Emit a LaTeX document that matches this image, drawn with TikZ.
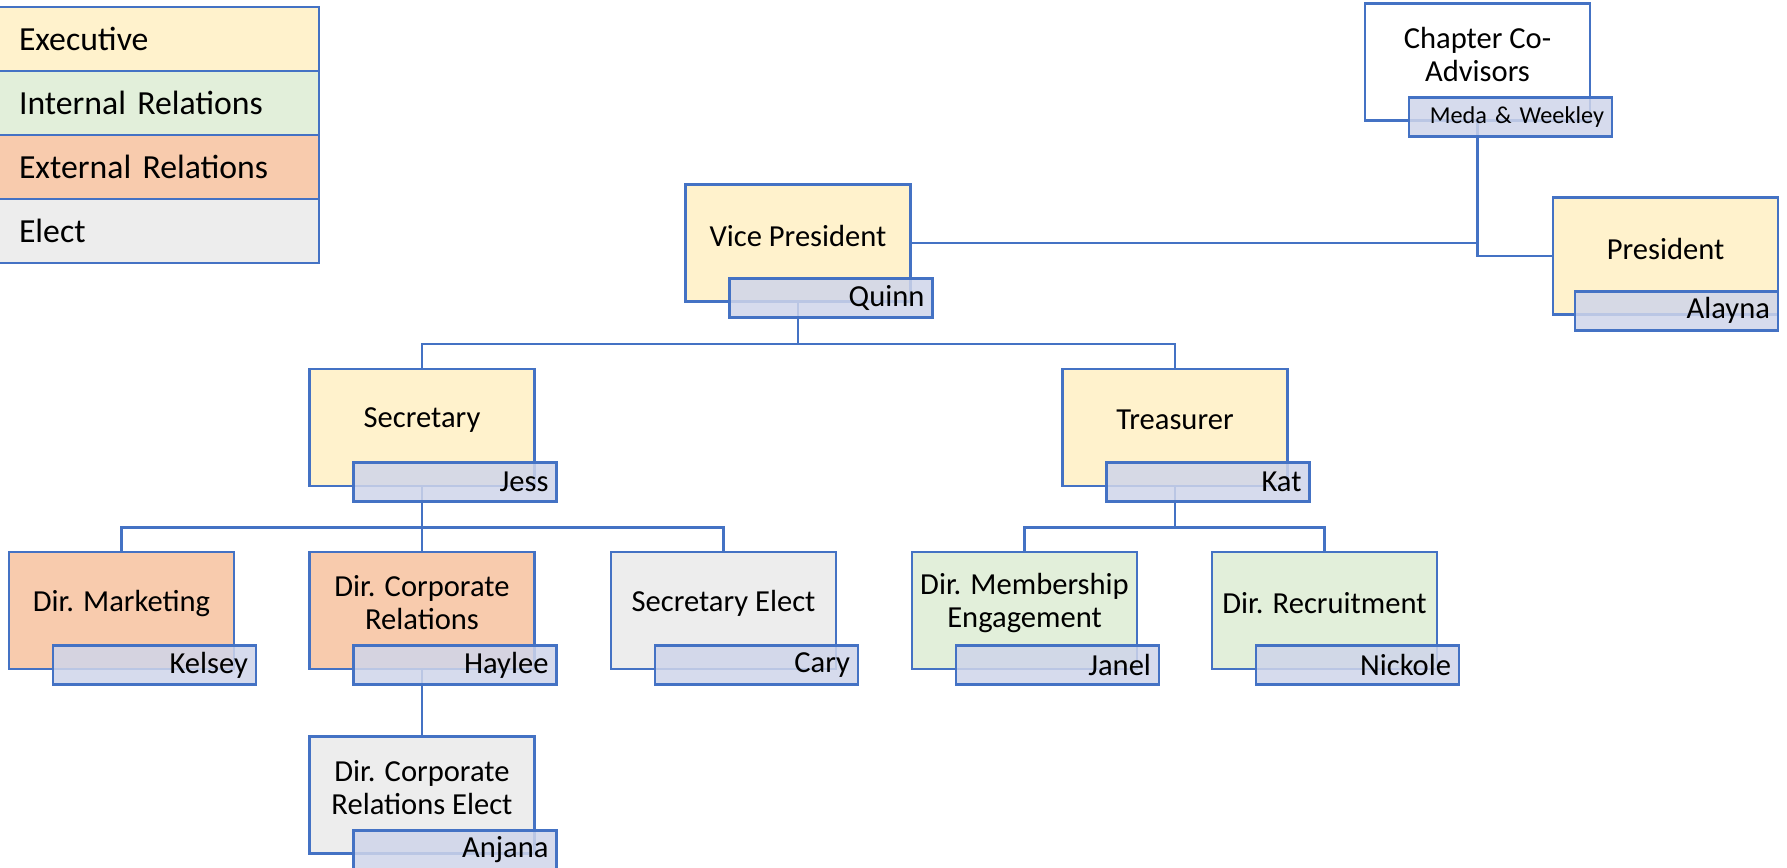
\documentclass[tikz,border=0pt]{standalone}
\usepackage{fontspec}
\setmainfont{Carlito}
\usetikzlibrary{calc,backgrounds}

\definecolor{chartblue}{HTML}{4472C4}
\definecolor{execfill}{HTML}{FFF2CC}
\definecolor{intfill}{HTML}{E2EFDA}
\definecolor{extfill}{HTML}{F8CBAD}
\definecolor{electfill}{HTML}{EDEDED}
\definecolor{tabfill}{HTML}{CFD5EA}

\tikzset{
	rolebox/.style={draw=chartblue, line width=0.055cm, minimum width=4.5cm, minimum height=2.34cm, inner sep=0pt},
	roletext/.style={align=center, inner sep=0pt, font=\fontsize{17.4}{18.8}\selectfont},
	nametab/.style={draw=chartblue, line width=0.055cm, fill=tabfill, fill opacity=0.85, text opacity=1, minimum height=0.78cm, text width=3.74cm, inner xsep=0.16cm, inner ysep=0pt, align=right, font=\fontsize{17.4}{18.8}\selectfont},
	legendcell/.style={draw=chartblue, line width=0.055cm, minimum height=1.28cm, text width=5.56cm, inner xsep=0.44cm, align=left, font=\fontsize{19.2}{21}\selectfont},
	link/.style={draw=chartblue, line width=0.055cm}
}

% box, title, name tab
\newcommand{\role}[6][]{%
	\node[rolebox, fill=#4] (#2) at (#3) {};
	\node[roletext] (#2-title) at ([yshift=0.15cm]#2.center) {#5};
	\node[nametab, anchor=north east, #1] (#2-name) at ([xshift=0.44cm, yshift=0.52cm]#2.south east) {#6};
}

\begin{document}
\begin{tikzpicture}[x=0.02cm, y=-0.02cm]
	%%%%% START %%%%%
	\useasboundingbox (0, 0) rectangle (1787, 867);
	
	\foreach \lab/\col [count=\i from 0] in {Executive/execfill, Internal Relations/intfill, External Relations/extfill, Elect/electfill}
		\node[legendcell, fill=\col] (key\i) at (158, {39+64*\i}) {\lab};
	
	\role[font=\fontsize{13.8}{15}\selectfont]{adv}{1477.5, 62}{white}{Chapter Co-\\Advisors}{Meda \& Weekley}
	\role[xshift=-0.44cm]{pres}{1665.5, 256}{execfill}{President}{Alayna}
	\role{vp}{798, 243}{execfill}{Vice President}{Quinn}
	
	\role{sec}{422, 427.5}{execfill}{Secretary}{Jess}
	\role{tre}{1175, 427.5}{execfill}{Treasurer}{Kat}
	
	\role{mkt}{121.5, 610.5}{extfill}{Dir. Marketing}{Kelsey}
	\role{corp}{422, 610.5}{extfill}{Dir. Corporate\\Relations}{Haylee}
	\role{secel}{723.5, 610.5}{electfill}{Secretary Elect}{Cary}
	\role{memb}{1024.5, 610.5}{intfill}{Dir. Membership\\Engagement}{Janel}
	\role{recr}{1324.5, 610.5}{intfill}{Dir. Recruitment}{Nickole}
	
	\role{corpel}{422, 795}{electfill}{Dir. Corporate\\Relations Elect}{Anjana}
	
	\begin{scope}[on background layer]
		\draw[link] (adv.south) |- (pres.west);
		\draw[link] (vp.east) -- (vp.east -| adv.south);
		\foreach \c in {sec, tre}
			\draw[link] (vp.south) -- ++(0, 41) -| (\c.north);
		\foreach \c in {mkt, corp, secel}
			\draw[link] (sec.south) -- ++(0, 40) -| (\c.north);
		\foreach \c in {memb, recr}
			\draw[link] (tre.south) -- ++(0, 40) -| (\c.north);
		\draw[link] (corp.south) -- (corpel.north);
	\end{scope}
	%%%%% END %%%%%
\end{tikzpicture}
\end{document}
